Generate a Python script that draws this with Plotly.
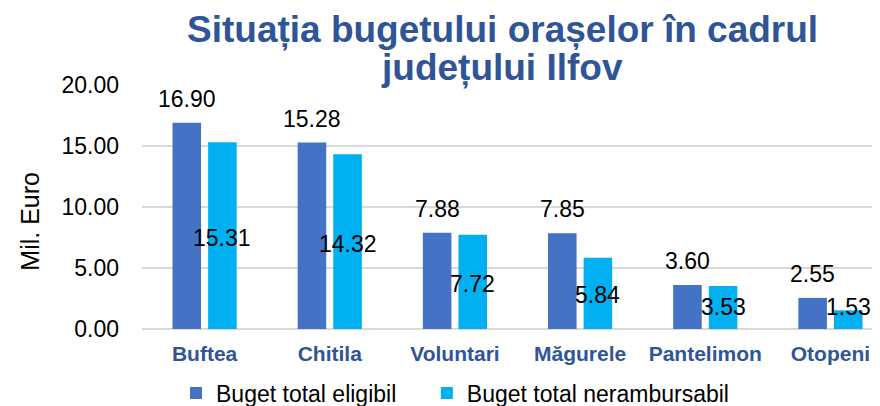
import plotly.graph_objects as go

categories = ["Buftea", "Chitila", "Voluntari", "Măgurele", "Pantelimon", "Otopeni"]
eligibil = [16.90, 15.28, 7.88, 7.85, 3.60, 2.55]
nerambursabil = [15.31, 14.32, 7.72, 5.84, 3.53, 1.53]
series_names = ["Buget total eligibil", "Buget total nerambursabil"]
y_ticks = [0, 5, 10, 15, 20]

FONT = "Arial, Liberation Sans, sans-serif"
BLUE = "#4472C4"
CYAN = "#00B0F0"
TITLE_COL = "#2F5597"

fig = go.Figure()
fig.add_trace(go.Bar(x=categories, y=eligibil, name=series_names[0] + "&nbsp;" * 4,
                     marker=dict(color=BLUE, line=dict(width=0))))
fig.add_trace(go.Bar(x=categories, y=nerambursabil, name=series_names[1],
                     marker=dict(color=CYAN, line=dict(width=0))))

# page body has an 8px margin; work in reference pixels and subtract it
OFF = 8
W, H = 880 - OFF, 406 - OFF
L = 142 - OFF
T = 84.7 - OFF
PB = 329.3 - OFF
B = H - PB
ph = PB - T
pw = W - L

def py(ypx):
    return (PB - (ypx - OFF)) / ph

def px(xpx):
    return ((xpx - OFF) - L) / pw

annotations = []
slot_px = 35.6
for c, v in zip(categories, eligibil):
    annotations.append(dict(x=c, y=v, xref="x", yref="y", text=f"{v:.2f}",
                            showarrow=False, xshift=-slot_px / 2, yshift=24,
                            yanchor="middle", font=dict(family=FONT, size=23, color="#000000")))
for c, v in zip(categories, nerambursabil):
    annotations.append(dict(x=c, y=max(v / 2, 1.93), xref="x", yref="y", text=f"{v:.2f}",
                            showarrow=False, xshift=slot_px / 2, yshift=-2,
                            yanchor="middle", font=dict(family=FONT, size=23, color="#000000")))

annotations.append(dict(x=px(502), y=py(29.2), xref="paper", yref="paper",
                        text="<b>Situația bugetului orașelor în cadrul</b>", showarrow=False,
                        xanchor="center", yanchor="middle",
                        font=dict(family=FONT, size=37, color=TITLE_COL)))
annotations.append(dict(x=px(502), y=py(67.9), xref="paper", yref="paper",
                        text="<b>județului Ilfov</b>", showarrow=False,
                        xanchor="center", yanchor="middle",
                        font=dict(family=FONT, size=37, color=TITLE_COL)))
annotations.append(dict(x=px(30), y=py(221.7), xref="paper", yref="paper",
                        text="Mil. Euro", showarrow=False, textangle=-90,
                        xanchor="center", yanchor="middle",
                        font=dict(family=FONT, size=25, color="#000000")))

fig.update_layout(
    width=W, height=H,
    margin=dict(l=L, r=0, t=T, b=B, pad=0, autoexpand=False),
    paper_bgcolor="white", plot_bgcolor="white",
    barmode="group", bargap=0.431, bargroupgap=0.198,
    font=dict(family=FONT, color="#000000"),
    showlegend=True,
    legend=dict(orientation="h", xref="paper", x=px(176), xanchor="left",
                yref="container", y=1 - (393 - OFF) / H, yanchor="middle",
                font=dict(family=FONT, size=23, color="#000000"),
                traceorder="normal", itemwidth=30, tracegroupgap=0),
    annotations=annotations,
    xaxis=dict(range=[-0.5, 5.396], showgrid=False, showline=False, zeroline=False,
               ticks="", ticklabelstandoff=10, automargin=False,
               tickfont=dict(family=FONT, size=21, color=TITLE_COL),
               tickmode="array", tickvals=categories,
               ticktext=[f"<b>{c}</b>" for c in categories]),
    yaxis=dict(range=[0, 20], tickmode="array", tickvals=y_ticks,
               ticktext=[f"{t:.2f}" for t in y_ticks], automargin=False,
               showgrid=True, gridcolor="#D9D9D9", gridwidth=2,
               zeroline=True, zerolinecolor="#D9D9D9", zerolinewidth=2,
               showline=False, ticks="", ticklabelstandoff=22,
               tickfont=dict(family=FONT, size=23, color="#000000")),
)

fig.write_html("out.html")
